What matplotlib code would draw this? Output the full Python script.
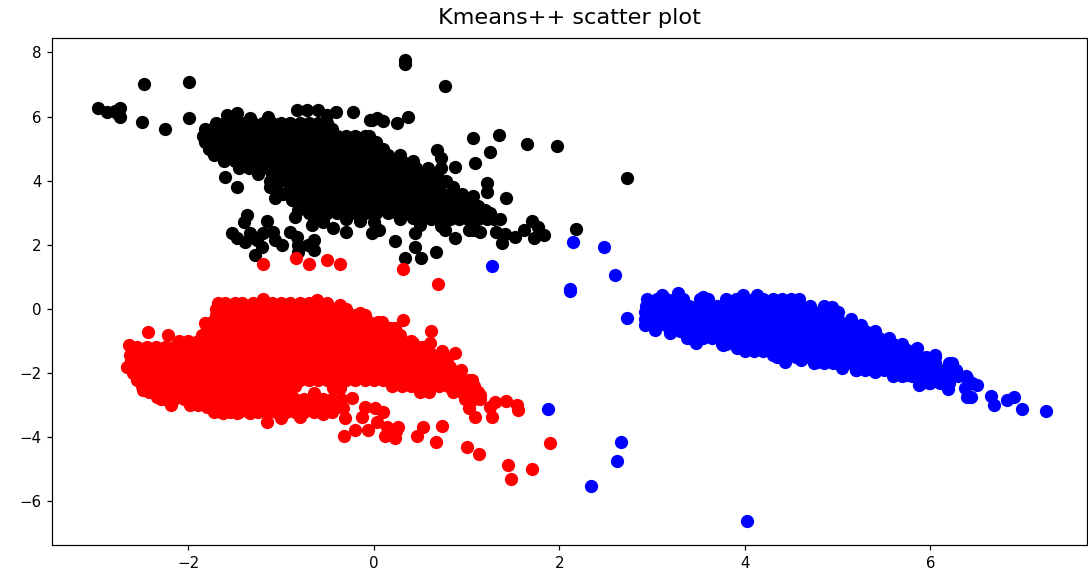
import matplotlib
matplotlib.use("Agg")
import matplotlib.pyplot as plt

X_TICKS = [-2, 0, 2, 4, 6]
Y_TICKS = [-6, -4, -2, 0, 2, 4, 6, 8]
TITLE = "Kmeans++ scatter plot"

black_rows = [
    (5.8, [-1.7, -1.6, -1.5, -1.4, -1.3, -1.2, -1.1, -1.0, -0.9, -0.8, -0.7, -0.6, -0.5]),
    (5.6, [-1.82, -1.75, -1.65, -1.55, -1.45, -1.35, -1.25, -1.15, -1.05, -0.95, -0.85, -0.75, -0.65, -0.55, -0.45]),
    (5.4, [-1.84, -1.7, -1.6, -1.5, -1.4, -1.3, -1.2, -1.1, -1.0, -0.9, -0.8, -0.7, -0.6, -0.5, -0.4, -0.3, -0.2, -0.1, -0.05]),
    (5.2, [-1.82, -1.75, -1.65, -1.55, -1.45, -1.35, -1.25, -1.15, -1.05, -0.95, -0.85, -0.75, -0.65, -0.55, -0.45, -0.35, -0.25, -0.15, -0.05, 0.02]),
    (5.0, [-1.78, -1.7, -1.6, -1.5, -1.4, -1.3, -1.2, -1.1, -1.0, -0.9, -0.8, -0.7, -0.6, -0.5, -0.4, -0.3, -0.2, -0.1, 0.0, 0.1]),
    (4.8, [-1.72, -1.65, -1.55, -1.45, -1.35, -1.25, -1.15, -1.05, -0.95, -0.85, -0.75, -0.65, -0.55, -0.45, -0.35, -0.25, -0.15, -0.05, 0.05, 0.15, 0.28]),
    (4.6, [-1.62, -1.5, -1.4, -1.3, -1.2, -1.1, -1.0, -0.9, -0.8, -0.7, -0.6, -0.5, -0.4, -0.3, -0.2, -0.1, 0.0, 0.1, 0.2, 0.3, 0.42]),
    (4.4, [-1.45, -1.35, -1.25, -1.15, -1.05, -0.95, -0.85, -0.75, -0.65, -0.55, -0.45, -0.35, -0.25, -0.15, -0.05, 0.05, 0.15, 0.25, 0.35, 0.45, 0.58]),
    (4.2, [-1.25, -1.1, -1.0, -0.9, -0.8, -0.7, -0.6, -0.5, -0.4, -0.3, -0.2, -0.1, 0.0, 0.1, 0.2, 0.3, 0.4, 0.5, 0.6, 0.68]),
    (4.0, [-1.12, -1.05, -0.95, -0.85, -0.75, -0.65, -0.55, -0.45, -0.35, -0.25, -0.15, -0.05, 0.05, 0.15, 0.25, 0.35, 0.45, 0.55, 0.65, 0.78]),
    (3.8, [-1.05, -0.9, -0.8, -0.7, -0.6, -0.5, -0.4, -0.3, -0.2, -0.1, 0.0, 0.1, 0.2, 0.3, 0.4, 0.5, 0.6, 0.7, 0.85]),
    (3.6, [-0.98, -0.85, -0.75, -0.65, -0.55, -0.45, -0.35, -0.25, -0.15, -0.05, 0.05, 0.15, 0.25, 0.35, 0.45, 0.55, 0.65, 0.75, 0.85, 0.95]),
    (3.4, [-0.88, -0.8, -0.7, -0.6, -0.5, -0.4, -0.3, -0.2, -0.1, 0.0, 0.1, 0.2, 0.3, 0.4, 0.5, 0.6, 0.7, 0.8, 0.9, 1.02]),
    (3.2, [-0.78, -0.65, -0.55, -0.45, -0.35, -0.25, -0.15, -0.05, 0.05, 0.15, 0.25, 0.35, 0.45, 0.55, 0.65, 0.75, 0.85, 0.95, 1.05, 1.12]),
    (3.0, [-0.7, -0.6, -0.5, -0.4, -0.3, -0.2, -0.1, 0.02, 0.15, 0.25, 0.35, 0.45, 0.55, 0.65, 0.75, 0.85, 0.95, 1.05, 1.15, 1.25]),
    (2.8, [-0.65, -0.55, 0.28, 0.62, 0.72, 0.82, 0.92, 1.02, 1.12, 1.22, 1.3, 1.36]),
]

black_points = [
    (-2.97, 6.27), (-2.88, 6.14), (-2.79, 6.17), (-2.74, 6.27), (-2.74, 5.99), (-2.77, 6.1),
    (-2.48, 7.0), (-1.99, 7.07), (-2.5, 5.83), (-2.25, 5.6), (-1.99, 5.95),
    (-1.58, 6.05), (-1.48, 6.1), (-1.33, 5.95), (-1.14, 6.0), (-0.83, 6.2), (-0.72, 6.2),
    (-0.6, 6.2), (-0.5, 6.05), (-0.41, 6.14), (-0.22, 6.14), (-0.02, 5.9), (-0.04, 5.9),
    (0.03, 5.95), (0.1, 5.85), (0.25, 5.8), (0.37, 6.0),
    (0.34, 7.77), (0.34, 7.64), (0.77, 6.95), (1.07, 5.33), (1.35, 5.43), (1.25, 4.9),
    (1.09, 4.56), (1.65, 5.15), (1.98, 5.08), (2.73, 4.09), (0.87, 4.43), (1.22, 3.93),
    (1.22, 3.65), (1.07, 3.52), (1.43, 3.46), (0.68, 4.95), (0.72, 4.7), (0.72, 4.4),
    (0.23, 2.12), (0.44, 2.37), (0.44, 1.93), (0.34, 1.59), (0.51, 1.59), (0.67, 1.78),
    (0.5, 2.62), (0.77, 2.46), (0.72, 2.6), (0.87, 2.2), (1.03, 2.45), (1.07, 2.46), (1.14, 2.4),
    (1.2, 3.1), (1.32, 2.4), (1.38, 2.05), (1.41, 2.35), (1.52, 2.25), (1.62, 2.45),
    (1.71, 2.75), (1.77, 2.55), (1.73, 2.2), (1.84, 2.3), (2.18, 2.5),
    (-1.6, 4.1), (-1.48, 3.8), (-1.07, 3.45), (-1.12, 3.8),
    (-1.37, 2.93), (-1.4, 2.72), (-1.15, 2.73), (-1.53, 2.37), (-1.48, 2.2), (-1.39, 2.1),
    (-1.34, 2.37), (-1.26, 2.15), (-1.21, 1.93), (-1.28, 1.68), (-1.2, 2.37), (-1.09, 2.4),
    (-1.07, 2.15), (-0.99, 2.0), (-0.9, 2.4), (-0.83, 2.25), (-0.82, 1.78), (-0.82, 2.0),
    (-0.71, 2.0), (-0.64, 2.15), (-0.64, 1.84), (-0.3, 2.4), (-0.02, 2.37), (0.06, 2.46),
    (-0.85, 2.87), (-0.82, 3.1), (-0.67, 2.62), (-0.44, 2.53), (-0.55, 2.7),
    (-0.3, 2.8), (-0.15, 2.75), (0.0, 2.7), (0.42, 2.85), (0.52, 2.85),
]

red_rows = [
    (0.2, [-1.68, -1.6, -1.5, -1.42, -1.3, -1.2, -1.1, -1.0, -0.9, -0.8, -0.7, -0.6, -0.5]),
    (0.0, [-1.7, -1.65, -1.55, -1.45, -1.35, -1.25, -1.15, -1.05, -0.95, -0.85, -0.75, -0.65, -0.55, -0.45, -0.35, -0.3]),
    (-0.2, [-1.7, -1.6, -1.5, -1.4, -1.3, -1.2, -1.1, -1.0, -0.9, -0.8, -0.7, -0.6, -0.5, -0.4, -0.3, -0.2, -0.1]),
    (-0.4, [-1.75, -1.65, -1.55, -1.45, -1.35, -1.25, -1.15, -1.05, -0.95, -0.85, -0.75, -0.65, -0.55, -0.45, -0.35, -0.25, -0.15, -0.05, 0.05]),
    (-0.6, [-1.8, -1.7, -1.6, -1.5, -1.4, -1.3, -1.2, -1.1, -1.0, -0.9, -0.8, -0.7, -0.6, -0.5, -0.4, -0.3, -0.2, -0.1, 0.0, 0.1, 0.17]),
    (-0.8, [-1.85, -1.75, -1.65, -1.55, -1.45, -1.35, -1.25, -1.15, -1.05, -0.95, -0.85, -0.75, -0.65, -0.55, -0.45, -0.35, -0.25, -0.15, -0.05, 0.05, 0.15, 0.28]),
    (-1.0, [-2.1, -2.0, -1.9, -1.8, -1.7, -1.6, -1.5, -1.4, -1.3, -1.2, -1.1, -1.0, -0.9, -0.8, -0.7, -0.6, -0.5, -0.4, -0.3, -0.2, -0.1, 0.0, 0.1, 0.2, 0.3, 0.4]),
    (-1.2, [-2.55, -2.45, -2.35, -2.25, -2.15, -2.05, -1.95, -1.85, -1.75, -1.65, -1.55, -1.45, -1.35, -1.25, -1.15, -1.05, -0.95, -0.85, -0.75, -0.65, -0.55, -0.45, -0.35, -0.25, -0.15, -0.05, 0.05, 0.15, 0.25, 0.35, 0.45, 0.52]),
    (-1.4, [-2.6, -2.5, -2.4, -2.3, -2.2, -2.1, -2.0, -1.9, -1.8, -1.7, -1.6, -1.5, -1.4, -1.3, -1.2, -1.1, -1.0, -0.9, -0.8, -0.7, -0.6, -0.5, -0.4, -0.3, -0.2, -0.1, 0.0, 0.1, 0.2, 0.3, 0.4, 0.5, 0.62]),
    (-1.6, [-2.62, -2.55, -2.45, -2.35, -2.25, -2.15, -2.05, -1.95, -1.85, -1.75, -1.65, -1.55, -1.45, -1.35, -1.25, -1.15, -1.05, -0.95, -0.85, -0.75, -0.65, -0.55, -0.45, -0.35, -0.25, -0.15, -0.05, 0.05, 0.15, 0.25, 0.35, 0.45, 0.55, 0.65, 0.72]),
    (-1.8, [-2.62, -2.5, -2.4, -2.3, -2.2, -2.1, -2.0, -1.9, -1.8, -1.7, -1.6, -1.5, -1.4, -1.3, -1.2, -1.1, -1.0, -0.9, -0.8, -0.7, -0.6, -0.5, -0.4, -0.3, -0.2, -0.1, 0.0, 0.1, 0.2, 0.3, 0.4, 0.5, 0.6, 0.7, 0.82]),
    (-2.0, [-2.6, -2.55, -2.45, -2.35, -2.25, -2.15, -2.05, -1.95, -1.85, -1.75, -1.65, -1.55, -1.45, -1.35, -1.25, -1.15, -1.05, -0.95, -0.85, -0.75, -0.65, -0.55, -0.45, -0.35, -0.25, -0.15, -0.05, 0.05, 0.15, 0.25, 0.35, 0.45, 0.55, 0.65, 0.75, 0.85, 0.92]),
    (-2.2, [-2.55, -2.5, -2.4, -2.3, -2.2, -2.1, -2.0, -1.9, -1.8, -1.7, -1.6, -1.5, -1.4, -1.3, -1.2, -1.1, -1.0, -0.9, -0.8, -0.7, -0.6, -0.5, -0.4, -0.3, -0.2, -0.1, 0.0, 0.1, 0.2, 0.3, 0.4, 0.5, 0.6, 0.7, 0.8, 0.9, 1.03]),
    (-2.4, [-2.5, -2.45, -2.35, -2.25, -2.15, -2.05, -1.95, -1.85, -1.75, -1.65, -1.55, -1.45, -1.35, -1.25, -1.15, -1.05, -0.95, -0.85, 0.2, 0.3, 0.4, 0.5, 0.6, 0.7, 0.8, 0.9, 1.0, 1.08]),
    (-2.6, [-2.42, -2.3, -2.2, -2.1, -2.0, -1.9, -1.8, -1.7, -1.6, -1.5, -1.4, -1.3, -1.2, -1.1, -1.0, -0.9, 0.5, 0.6, 0.85, 0.95, 1.05, 1.12]),
    (-2.8, [-2.3, -2.25, -2.15, -2.05, -1.95, -1.85, -1.75, -1.65, -1.55, -1.45, -1.35, -1.25, -1.15, -1.05, -0.95, -0.85, -0.75, -0.65, -0.55, -0.45, -0.35, 0.98, 1.08, 1.14]),
    (-3.0, [-1.98, -1.9, -1.8, -1.7, -1.6, -1.5, -1.4, -1.3, -1.2, -1.1, -1.0, -0.9, -0.8, -0.7, -0.6, -0.5, -0.4]),
    (-3.2, [-1.72, -1.65, -1.55, -1.45, -1.35, -1.25, -1.15, -1.05, -0.95, -0.85, -0.75, -0.65, -0.55, -0.45]),
]

red_points = [
    (-1.2, 1.4), (-0.84, 1.59), (-0.7, 1.4), (-0.51, 1.53), (-0.37, 1.4), (0.32, 1.25), (0.69, 0.78),
    (-2.64, -1.12), (-2.43, -0.72), (-2.22, -0.81), (-2.09, -1.06), (-1.82, -0.44),
    (-1.2, 0.3), (-0.61, 0.28), (-0.37, 0.12), (-0.15, -0.12), (0.09, -0.4), (0.32, -0.34),
    (0.23, -0.59), (0.62, -0.69), (0.61, -1.06), (0.42, -1.06), (0.73, -1.31), (0.87, -1.37),
    (0.79, -1.55), (0.94, -1.9), (1.06, -2.21), (1.14, -2.68), (1.03, -3.09), (1.09, -3.37),
    (1.27, -3.37), (1.25, -3.06), (1.31, -2.9), (1.43, -2.87), (1.54, -2.99), (1.55, -3.15),
    (-0.64, -2.62), (-0.44, -2.46), (-0.37, -2.46), (-0.24, -2.78), (-0.33, -3.09), (-0.31, -3.4),
    (-0.32, -3.96), (-0.2, -3.77), (-0.06, -3.77), (-0.1, -3.06), (0.01, -3.09), (0.1, -3.21),
    (-0.13, -3.37), (0.03, -3.52), (0.14, -3.68), (0.26, -3.68), (0.12, -3.96), (0.23, -4.02),
    (0.24, -3.8), (0.53, -3.68), (0.47, -3.96), (0.74, -3.65), (0.67, -4.15), (1.01, -4.3),
    (1.13, -4.52), (1.45, -4.86), (1.48, -5.3), (1.71, -4.99), (1.9, -4.18),
    (-1.15, -3.52), (-1.0, -3.4), (-0.8, -3.37), (-0.55, -3.27), (-1.8, -3.06), (-1.98, -2.9), (-2.19, -2.99),
    (-2.34, -2.74), (-2.49, -2.53), (-2.66, -1.8), (-2.63, -1.43), (-1.63, -3.25), (-1.48, -3.25), (-1.34, -3.25),
]

blue_rows = [
    (0.3, [2.95, 3.05, 3.15, 3.25, 3.33, 3.52, 3.6, 3.8, 3.9, 4.0, 4.1, 4.2, 4.3, 4.4, 4.5, 4.58]),
    (0.1, [2.93, 3.0, 3.1, 3.2, 3.3, 3.4, 3.5, 3.6, 3.7, 3.8, 3.9, 4.0, 4.1, 4.2, 4.3, 4.4, 4.5, 4.6, 4.7, 4.85]),
    (-0.1, [2.92, 3.05, 3.15, 3.25, 3.35, 3.45, 3.55, 3.65, 3.75, 3.85, 3.95, 4.05, 4.15, 4.25, 4.35, 4.45, 4.55, 4.65, 4.75, 4.85, 5.0]),
    (-0.3, [2.92, 3.0, 3.1, 3.2, 3.3, 3.4, 3.5, 3.6, 3.7, 3.8, 3.9, 4.0, 4.1, 4.2, 4.3, 4.4, 4.5, 4.6, 4.7, 4.8, 4.9, 5.0, 5.15]),
    (-0.5, [2.92, 3.05, 3.15, 3.25, 3.35, 3.45, 3.55, 3.65, 3.75, 3.85, 3.95, 4.05, 4.15, 4.25, 4.35, 4.45, 4.55, 4.65, 4.75, 4.85, 4.95, 5.05, 5.15, 5.25]),
    (-0.7, [3.19, 3.3, 3.4, 3.5, 3.6, 3.7, 3.8, 3.9, 4.0, 4.1, 4.2, 4.3, 4.4, 4.5, 4.6, 4.7, 4.8, 4.9, 5.0, 5.1, 5.2, 5.3, 5.4]),
    (-0.9, [3.4, 3.55, 3.65, 3.75, 3.85, 3.95, 4.05, 4.15, 4.25, 4.35, 4.45, 4.55, 4.65, 4.75, 4.85, 4.95, 5.05, 5.15, 5.25, 5.35, 5.45, 5.55]),
    (-1.1, [3.75, 3.8, 3.9, 4.0, 4.1, 4.2, 4.3, 4.4, 4.5, 4.6, 4.7, 4.8, 4.9, 5.0, 5.1, 5.2, 5.3, 5.4, 5.5, 5.6, 5.7]),
    (-1.3, [4.0, 4.1, 4.2, 4.3, 4.4, 4.5, 4.6, 4.7, 4.8, 4.9, 5.0, 5.1, 5.2, 5.3, 5.4, 5.5, 5.6, 5.7, 5.85]),
    (-1.5, [4.35, 4.45, 4.55, 4.65, 4.75, 4.85, 4.95, 5.05, 5.15, 5.25, 5.35, 5.45, 5.55, 5.65, 5.75, 5.85, 5.95, 6.05]),
    (-1.7, [4.75, 4.85, 4.95, 5.05, 5.15, 5.25, 5.35, 5.45, 5.55, 5.65, 5.75, 5.85, 5.95, 6.05, 6.2]),
    (-1.9, [5.2, 5.3, 5.4, 5.5, 5.6, 5.7, 5.8, 5.9, 6.0, 6.1, 6.2, 6.28]),
    (-2.1, [5.6, 5.7, 5.8, 5.9, 6.0, 6.1, 6.2, 6.3, 6.38]),
    (-2.3, [5.9, 6.0, 6.1, 6.2, 6.45]),
]

blue_points = [
    (2.15, 2.09), (2.48, 1.93), (2.6, 1.06), (2.11, 0.56), (2.12, 0.62), (1.27, 1.34),
    (1.88, -3.12), (2.67, -4.15), (2.62, -4.74), (2.34, -5.52), (4.02, -6.61), (2.73, -0.28),
    (3.11, 0.44), (3.28, 0.5), (3.55, 0.37), (3.98, 0.44), (4.13, 0.44), (4.94, 0.06),
    (3.03, -0.65), (3.19, -0.75), (3.38, -0.9), (3.47, -1.06), (3.76, -1.12), (3.92, -1.22),
    (4.3, -1.43), (4.43, -1.65), (4.61, -1.59), (4.78, -1.65), (5.05, -1.84),
    (5.2, -1.9), (5.4, -1.96), (5.56, -1.06), (5.75, -1.28), (5.86, -1.22), (6.05, -1.43),
    (6.23, -1.68), (6.28, -1.96), (6.4, -2.15), (6.5, -2.37), (6.44, -2.74), (6.4, -2.74),
    (6.37, -2.46), (6.65, -2.71), (6.69, -2.99), (6.83, -2.84), (6.9, -2.74), (6.99, -3.12),
    (7.25, -3.18), (5.88, -2.37), (6.19, -2.49), (5.99, -2.31), (5.75, -2.05),
]


def collect(rows, points):
    xs, ys = [], []
    for y, row in rows:
        xs += row
        ys += [y] * len(row)
    for x, y in points:
        xs.append(x)
        ys.append(y)
    return xs, ys


fig = plt.figure(figsize=(1088 / 108, 575 / 108), dpi=108)
ax = fig.add_axes([52 / 1088, 30 / 575, 1035 / 1088, 507 / 575])

for rows, points, color in [(black_rows, black_points, "black"),
                            (red_rows, red_points, "red"),
                            (blue_rows, blue_points, "blue")]:
    xs, ys = collect(rows, points)
    ax.scatter(xs, ys, s=78, c=color, linewidths=0)

ax.set_xlim(-3.47, 7.69)
ax.set_ylim(-7.36, 8.45)
ax.set_xticks(X_TICKS)
ax.set_yticks(Y_TICKS)
ax.set_title(TITLE, fontsize=14.9, pad=9.5)

fig.savefig("out.png", dpi=108)
